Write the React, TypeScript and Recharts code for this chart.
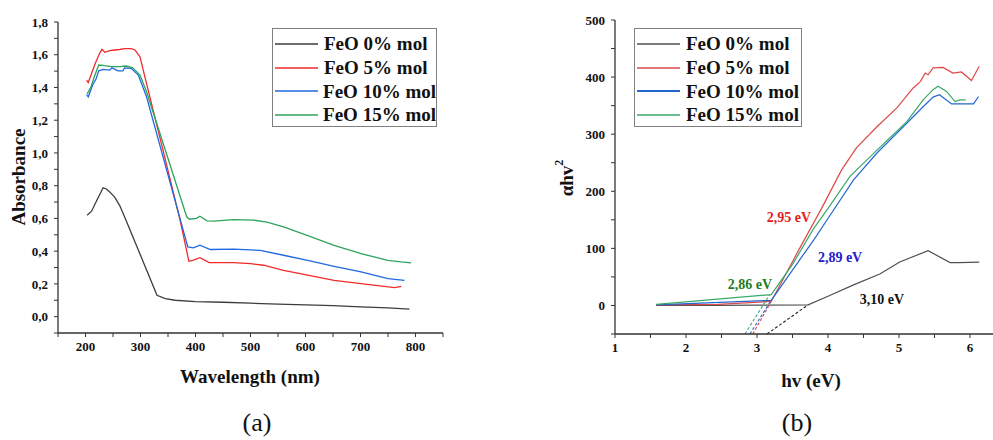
import React from 'react';
import { LineChart, Line, XAxis, YAxis, Legend, ReferenceDot, Label } from 'recharts';

const SERIES = ['FeO 0% mol', 'FeO 5% mol', 'FeO 10% mol', 'FeO 15% mol'];

// ---------- Panel (a): Absorbance vs wavelength ----------
const WL_0 = [203, 211, 222, 232, 238, 244, 253, 262, 271, 300, 330, 345, 363, 400, 450, 500, 550, 600, 650, 700, 750, 789];
const ABS_0 = [0.62, 0.644, 0.72, 0.787, 0.78, 0.762, 0.73, 0.68, 0.61, 0.375, 0.13, 0.11, 0.1, 0.092, 0.088, 0.082, 0.077, 0.072, 0.067, 0.06, 0.053, 0.046];

const WL_5 = [202, 205, 210, 218, 226, 230, 235, 244, 253, 262, 271, 283, 290, 299, 308, 340, 372, 388, 395, 408, 425, 450, 469, 500, 524, 560, 604, 652, 701, 743, 762, 774];
const ABS_5 = [1.445, 1.43, 1.476, 1.55, 1.61, 1.633, 1.615, 1.625, 1.629, 1.632, 1.637, 1.637, 1.629, 1.588, 1.465, 1.03, 0.59, 0.338, 0.344, 0.36, 0.33, 0.33, 0.33, 0.324, 0.314, 0.283, 0.253, 0.222, 0.202, 0.185, 0.177, 0.185];

const WL_10 = [202, 205, 213, 219.5, 224, 232, 244, 248, 259, 268, 271, 283, 296, 311, 350, 386, 396, 408, 427, 469, 518, 560, 604, 652, 701, 750, 780];
const ABS_10 = [1.357, 1.343, 1.415, 1.455, 1.502, 1.51, 1.506, 1.52, 1.502, 1.502, 1.52, 1.517, 1.476, 1.343, 0.866, 0.426, 0.42, 0.436, 0.41, 0.413, 0.405, 0.375, 0.344, 0.307, 0.273, 0.232, 0.222];

const WL_15 = [203, 210, 216, 224, 232, 247, 262, 274, 286, 299, 311, 350, 384, 389, 402, 408, 421, 433, 469, 506, 530, 560, 603, 652, 701, 750, 774, 792];
const ABS_15 = [1.36, 1.404, 1.465, 1.537, 1.535, 1.527, 1.527, 1.531, 1.52, 1.476, 1.374, 0.966, 0.61, 0.595, 0.6, 0.613, 0.585, 0.583, 0.593, 0.589, 0.578, 0.548, 0.497, 0.436, 0.385, 0.344, 0.334, 0.328];

const A_X_TICKS = [150, 200, 250, 300, 350, 400, 450, 500, 550, 600, 650, 700, 750, 800, 850];
const A_Y_TICKS = [-0.1, 0, 0.1, 0.2, 0.3, 0.4, 0.5, 0.6, 0.7, 0.8, 0.9, 1.0, 1.1, 1.2, 1.3, 1.4, 1.5, 1.6, 1.7, 1.8];

// ---------- Panel (b): (alpha h nu)^2 vs h nu ----------
const EV_0 = [1.58, 2.4, 3.0, 3.72, 4.0, 4.36, 4.73, 5.01, 5.41, 5.72, 5.85, 6.13];
const AHV_0 = [0, 0, 0.5, 1, 16, 36, 55, 76, 96, 75, 75, 76];

const EV_5 = [1.58, 2.45, 3.2, 3.6, 3.91, 4.19, 4.4, 4.69, 4.97, 5.2, 5.3, 5.37, 5.41, 5.48, 5.62, 5.76, 5.88, 6.02, 6.13];
const AHV_5 = [1, 2, 7, 100, 170, 237, 276, 313, 346, 381, 392, 407, 404, 416, 417, 407, 409, 394, 419];

const EV_10 = [1.58, 3.2, 3.5, 3.8, 4.03, 4.36, 4.69, 5.06, 5.34, 5.48, 5.57, 5.74, 5.88, 6.05, 6.12];
const AHV_10 = [1, 9, 62, 115, 158, 220, 267, 313, 348, 365, 369, 353, 353, 353, 366];

const EV_15 = [1.58, 3.2, 3.5, 3.8, 4.0, 4.31, 4.69, 5.01, 5.11, 5.34, 5.48, 5.55, 5.67, 5.79, 5.86, 5.94];
const AHV_15 = [2, 19, 72, 135, 170, 226, 272, 310, 322, 360, 378, 384, 375, 357, 360, 360];

// Tauc tangent extrapolations (dashed)
const TAN_EV_0 = [3.14, 3.72];
const TAN_Y_0 = [-50, 1];
const TAN_EV_5 = [2.94, 3.2];
const TAN_Y_5 = [-50, 7];
const TAN_EV_10 = [2.9, 3.2];
const TAN_Y_10 = [-50, 9];
const TAN_EV_15 = [2.83, 3.18];
const TAN_Y_15 = [-50, 19];

const GAP_LABELS = ['3,10 eV', '2,95 eV', '2,89 eV', '2,86 eV'];
const GAP_LABEL_EV = [4.76, 3.45, 4.17, 2.9];
const GAP_LABEL_Y = [11, 155, 85, 37];

const B_X_TICKS = [1, 1.5, 2, 2.5, 3, 3.5, 4, 4.5, 5, 5.5, 6];
const B_Y_TICKS = [-50, 0, 50, 100, 150, 200, 250, 300, 350, 400, 450, 500];

const zip = (xs: number[], ys: number[]) => xs.map((x, i) => ({ x, y: ys[i] }));

const A_COLORS = ['#3d3d3d', '#f02a2a', '#1f6ae0', '#2ea35e'];
const B_COLORS = ['#505050', '#dd4848', '#2266d0', '#3aa86c'];
const B_LEGEND_WIDTHS = [1.3, 1.3, 2.2, 1.3];
const LABEL_COLORS = ['#111111', '#e31b1b', '#2020cc', '#1e7d1e'];

const SERIF = '"Liberation Serif", "Times New Roman", serif';
const tickStyle = { fontFamily: SERIF, fontWeight: 'bold' as const, fontSize: 13, fill: '#111' };

const makeLegend = (colors: string[], widths: number[], width: number) => () => (
  <div
    style={{
      width,
      height: 99,
      border: '1px solid #808080',
      background: '#fff',
      boxSizing: 'border-box',
      paddingTop: 3,
    }}
  >
    {SERIES.map((name, i) => (
      <div key={name} style={{ display: 'flex', alignItems: 'center', height: 23.7 }}>
        <svg width={45} height={6} style={{ marginLeft: 1, marginRight: 5, display: 'block' }}>
          <line x1={1} y1={3} x2={44} y2={3} stroke={colors[i]} strokeWidth={widths[i]} />
        </svg>
        <span style={{ fontFamily: SERIF, fontWeight: 'bold', fontSize: 19, color: '#111', lineHeight: '23px', whiteSpace: 'nowrap' }}>
          {name}
        </span>
      </div>
    ))}
  </div>
);

const titleStyle = { fontFamily: SERIF, fontWeight: 'bold' as const, fontSize: 19, fill: '#111' };

const aFormatY = (v: number) => (Math.round(v * 10) % 2 === 0 ? v.toFixed(1).replace('.', ',') : '');
const aFormatX = (v: number) => (v % 100 === 0 ? String(v) : '');
const bFormatY = (v: number) => (v % 100 === 0 ? String(v) : '');
const bFormatX = (v: number) => (Number.isInteger(v) ? String(v) : '');

const PanelA = () => {
  const series = [zip(WL_0, ABS_0), zip(WL_5, ABS_5), zip(WL_10, ABS_10), zip(WL_15, ABS_15)];
  return (
    <LineChart width={500} height={440} margin={{ top: 22, right: 57, bottom: 77, left: 18 }}>
      <XAxis
        type="number"
        dataKey="x"
        domain={[150, 850]}
        ticks={A_X_TICKS}
        interval={0}
        tickFormatter={aFormatX}
        height={30}
        tickSize={4}
        tickMargin={5}
        tick={tickStyle}
        axisLine={{ stroke: '#333', strokeWidth: 1.3 }}
        tickLine={{ stroke: '#333' }}
      >
        <Label
          content={() => (
            <text x={250} y={376} textAnchor="middle" dominantBaseline="central" style={titleStyle}>
              Wavelength (nm)
            </text>
          )}
        />
      </XAxis>
      <XAxis xAxisId="top" orientation="top" type="number" domain={[150, 850]} height={0} tick={false} tickLine={false} axisLine={{ stroke: '#333', strokeWidth: 1.3 }} />
      <YAxis
        type="number"
        domain={[-0.1, 1.8]}
        ticks={A_Y_TICKS}
        interval={0}
        tickFormatter={aFormatY}
        width={40}
        tickSize={4}
        tickMargin={6}
        tick={tickStyle}
        axisLine={{ stroke: '#333', strokeWidth: 1.3 }}
        tickLine={{ stroke: '#333' }}
      >
        <Label
          content={() => (
            <text x={18} y={177} transform="rotate(-90 18 177)" textAnchor="middle" dominantBaseline="central" style={titleStyle}>
              Absorbance
            </text>
          )}
        />
      </YAxis>
      <YAxis yAxisId="right" orientation="right" type="number" domain={[-0.1, 1.8]} width={0} tick={false} tickLine={false} axisLine={{ stroke: '#333', strokeWidth: 1.3 }} />
      {series.map((d, i) => (
        <Line
          key={SERIES[i]}
          name={SERIES[i]}
          data={d}
          dataKey="y"
          type="linear"
          stroke={A_COLORS[i]}
          strokeWidth={1.3}
          dot={false}
          activeDot={false}
          isAnimationActive={false}
        />
      ))}
      <Legend
        layout="vertical"
        align="center"
        verticalAlign="middle"
        wrapperStyle={{ left: 272, top: 28, width: 165, height: 99 }}
        content={makeLegend(A_COLORS, [1.3, 1.3, 1.3, 1.3], 165)}
      />
    </LineChart>
  );
};

const PanelB = () => {
  const series = [zip(EV_0, AHV_0), zip(EV_5, AHV_5), zip(EV_10, AHV_10), zip(EV_15, AHV_15)];
  const tangents = [zip(TAN_EV_0, TAN_Y_0), zip(TAN_EV_5, TAN_Y_5), zip(TAN_EV_10, TAN_Y_10), zip(TAN_EV_15, TAN_Y_15)];
  return (
    <LineChart width={493} height={440} margin={{ top: 20, right: 0, bottom: 76, left: 75 }}>
      <XAxis
        type="number"
        dataKey="x"
        domain={[1, 6.324]}
        ticks={B_X_TICKS}
        interval={0}
        tickFormatter={bFormatX}
        height={30}
        tickSize={4}
        tickMargin={5}
        tick={tickStyle}
        axisLine={{ stroke: '#333', strokeWidth: 1.3 }}
        tickLine={{ stroke: '#333' }}
      >
        <Label
          content={() => (
            <text x={311} y={380} textAnchor="middle" dominantBaseline="central" style={titleStyle}>
              hv (eV)
            </text>
          )}
        />
      </XAxis>
      <XAxis xAxisId="top" orientation="top" type="number" domain={[1, 6.324]} height={0} tick={false} tickLine={false} axisLine={{ stroke: '#666', strokeWidth: 1.3 }} />
      <YAxis
        type="number"
        domain={[-50, 500]}
        ticks={B_Y_TICKS}
        interval={0}
        tickFormatter={bFormatY}
        width={40}
        tickSize={4}
        tickMargin={6}
        tick={tickStyle}
        axisLine={{ stroke: '#333', strokeWidth: 1.3 }}
        tickLine={{ stroke: '#333' }}
      >
        <Label
          content={() => (
            <text x={66} y={178} transform="rotate(-90 66 178)" textAnchor="middle" dominantBaseline="central" style={titleStyle}>
              αhv<tspan dy={-7} fontSize={12}>2</tspan>
            </text>
          )}
        />
      </YAxis>
      {series.map((d, i) => (
        <Line
          key={SERIES[i]}
          name={SERIES[i]}
          data={d}
          dataKey="y"
          type="linear"
          stroke={B_COLORS[i]}
          strokeWidth={1.2}
          dot={false}
          activeDot={false}
          isAnimationActive={false}
        />
      ))}
      {tangents.map((d, i) => (
        <Line
          key={'tan' + i}
          data={d}
          dataKey="y"
          type="linear"
          stroke={i === 0 ? '#222' : B_COLORS[i]}
          strokeWidth={1.1}
          strokeDasharray="3 2"
          dot={false}
          activeDot={false}
          legendType="none"
          isAnimationActive={false}
        />
      ))}
      {GAP_LABELS.map((t, i) => (
        <ReferenceDot
          key={t}
          x={GAP_LABEL_EV[i]}
          y={GAP_LABEL_Y[i]}
          r={1}
          fill="none"
          stroke="none"
          label={{ value: t, position: 'center', fill: LABEL_COLORS[i], fontSize: 14, fontWeight: 'bold', fontFamily: SERIF }}
        />
      ))}
      <Legend
        layout="vertical"
        align="center"
        verticalAlign="middle"
        wrapperStyle={{ left: 134, top: 28, width: 168, height: 99 }}
        content={makeLegend(B_COLORS, B_LEGEND_WIDTHS, 168)}
      />
    </LineChart>
  );
};

const captionStyle: React.CSSProperties = {
  position: 'absolute',
  top: 423,
  transform: 'translate(-50%, -50%)',
  fontFamily: SERIF,
  fontSize: 26,
  color: '#111',
  lineHeight: 1,
};

export default function App() {
  return (
    <div style={{ position: 'absolute', left: 0, top: 0, width: 993, height: 440, background: '#fff', overflow: 'hidden' }}>
      <div style={{ position: 'absolute', left: 0, top: 0 }}>
        <PanelA />
      </div>
      <div style={{ position: 'absolute', left: 500, top: 0 }}>
        <PanelB />
      </div>
      <div style={{ ...captionStyle, left: 257 }}>(a)</div>
      <div style={{ ...captionStyle, left: 797 }}>(b)</div>
    </div>
  );
}
